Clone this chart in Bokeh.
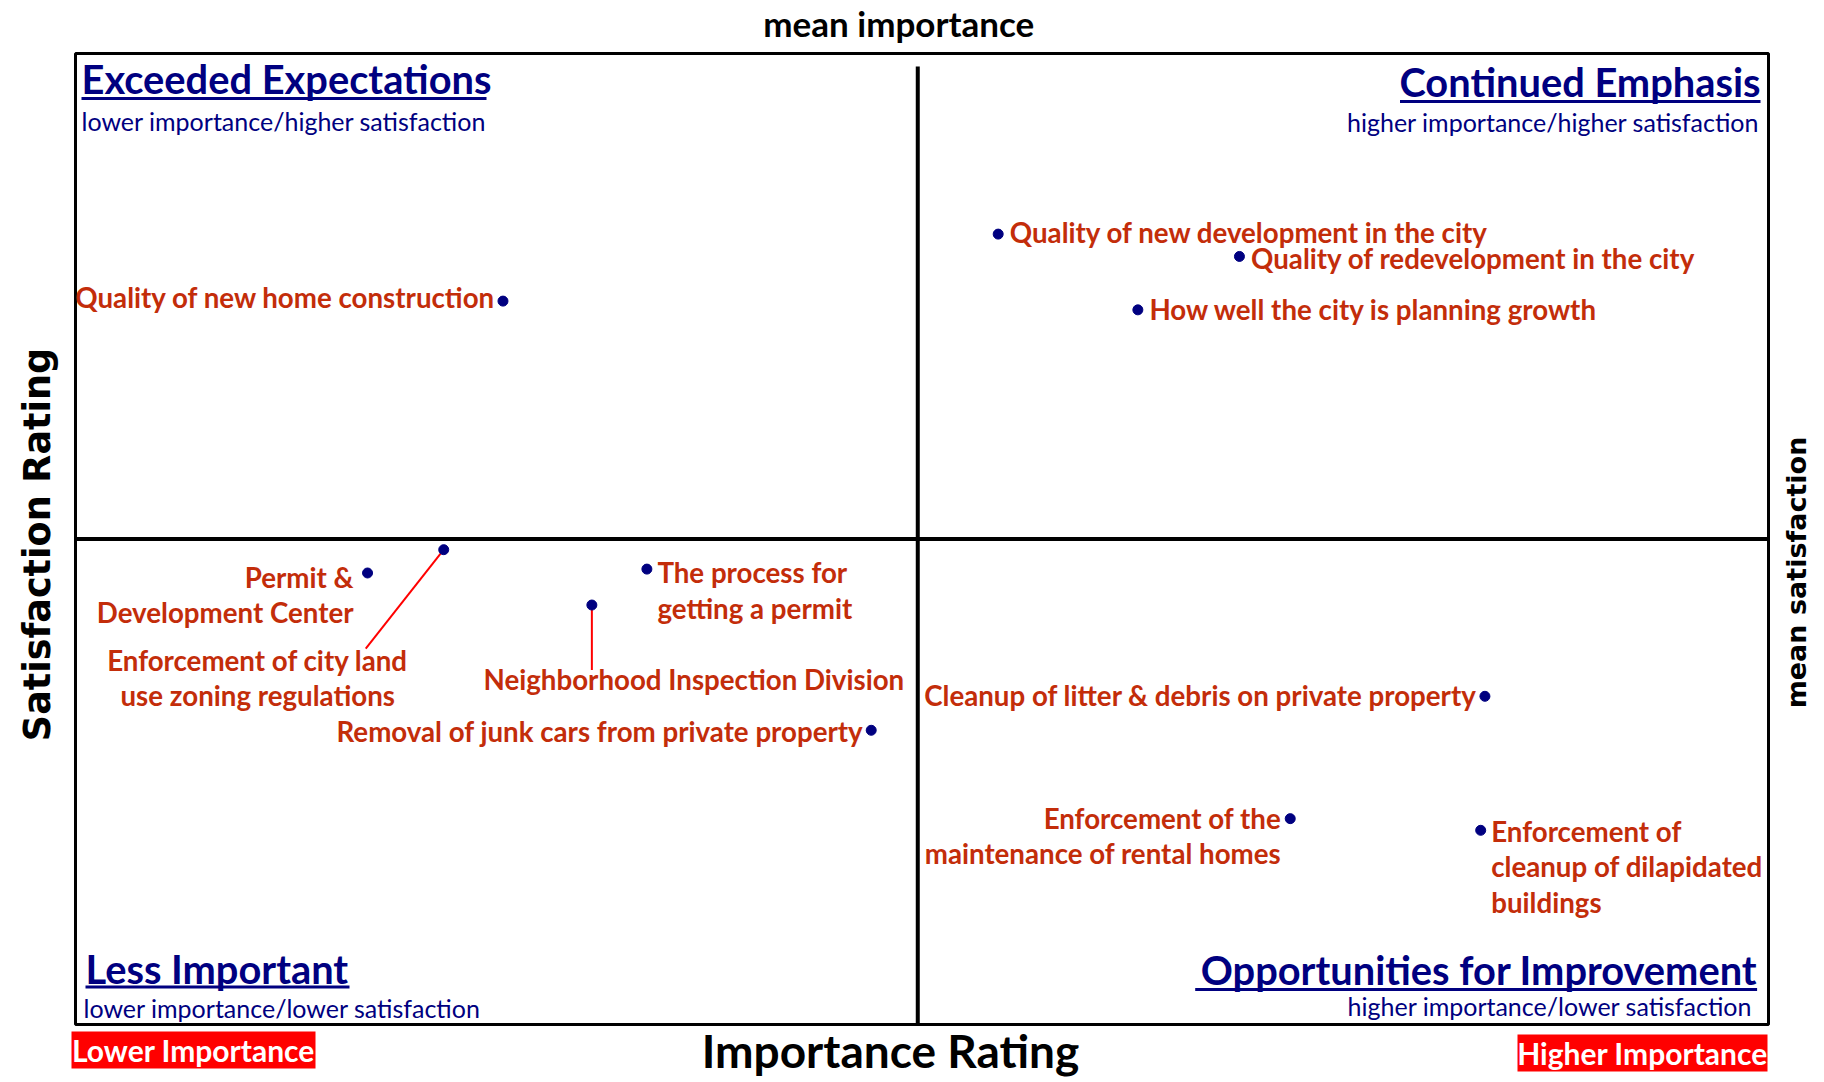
import math
from bokeh.plotting import figure
from bokeh.models import ColumnDataSource, Range1d
from bokeh.core.properties import value
from bokeh.embed import file_html
from bokeh.resources import INLINE

# ---------------- data ----------------
items = [
    "Quality of new home construction",
    "Quality of new development in the city",
    "Quality of redevelopment in the city",
    "How well the city is planning growth",
    "Permit &\nDevelopment Center",
    "Enforcement of city land\nuse zoning regulations",
    "The process for\ngetting a permit",
    "Neighborhood Inspection Division",
    "Removal of junk cars from private property",
    "Cleanup of litter & debris on private property",
    "Enforcement of the\nmaintenance of rental homes",
    "Enforcement of\ncleanup of dilapidated\nbuildings",
]
importance = [10.1, 21.8, 27.5, 25.1, 6.9, 8.7, 13.5, 12.2, 18.8, 33.3, 28.7, 33.2]
satisfaction = [3.345, 3.414, 3.391, 3.336, 3.065, 3.089, 3.069, 3.032, 2.903, 2.938, 2.812, 2.800]
mean_importance = 19.9
mean_satisfaction = 3.1

quadrant_titles = ["Exceeded Expectations", "Continued Emphasis",
                   "Less Important", "Opportunities for Improvement"]
quadrant_subtitles = ["lower importance/higher satisfaction",
                      "higher importance/higher satisfaction",
                      "lower importance/lower satisfaction",
                      "higher importance/lower satisfaction"]
x_title = "Importance Rating"
y_title = "Satisfaction Rating"
top_title = "mean importance"
right_title = "mean satisfaction"
end_labels = ["Lower Importance", "Higher Importance"]

# ---------------- layout / style ----------------
W, H = 1816, 1078
DL, DT, DR, DB = 75, 53, 1768, 1024      # chart box inside the canvas (px)
DW, DH = DR - DL, DB - DT
X0, X1 = 0.0, 40.0
Y0, Y1 = 2.6, 3.6

def dxp(px):
    return px * (X1 - X0) / DW

def dyp(px):
    return px * (Y1 - Y0) / DH

FONT = "Lato"
WIDE = "DejaVu Sans"
NAVY = "#000080"
LRED = "#C32D0A"

# label offsets (screen px, y down) and alignment per item
lab_dx = [-7, 11.6, 11.6, 11.6, -14, -186, 10.5, 102, -8, -8, -9, 10.5]
lab_dy = [-3.5, -2, 2, 0, 22, 128, 21.5, 74.5, 1, -1, 17.5, 36.6]
lab_align = ["right", "left", "left", "left", "right", "center", "left",
             "center", "right", "right", "right", "left"]

p = figure(width=W, height=H,
           x_range=Range1d(X0 - dxp(DL), X1 + dxp(W - DR)),
           y_range=Range1d(Y0 - dyp(H - DB), Y1 + dyp(DT)),
           output_backend="svg", toolbar_location=None, title=None,
           x_axis_location=None, y_axis_location=None,
           min_border=0)
p.grid.visible = False
p.outline_line_color = None
p.background_fill_color = "white"
p.border_fill_color = "white"

# chart box
p.quad(left=[X0], right=[X1], bottom=[Y0], top=[Y1], fill_color=None,
       line_color="black", line_width=3)

# dividers
p.segment(x0=[X0], x1=[X1], y0=[mean_satisfaction], y1=[mean_satisfaction],
          line_color="black", line_width=4)
p.segment(x0=[mean_importance], x1=[mean_importance], y0=[Y0], y1=[Y1 - dyp(13)],
          line_color="black", line_width=4)

# leader lines
lead_idx = [5, 7]
lead_off = [(-78, 99), (0, 65)]
p.segment(x0=[importance[i] for i in lead_idx],
          y0=[satisfaction[i] for i in lead_idx],
          x1=[importance[i] + dxp(o[0]) for i, o in zip(lead_idx, lead_off)],
          y1=[satisfaction[i] - dyp(o[1]) for i, o in zip(lead_idx, lead_off)],
          line_color="#FF0000", line_width=2)

src = ColumnDataSource(dict(x=importance, y=satisfaction, t=items,
                            dx=lab_dx, dy=lab_dy, al=lab_align))
p.scatter("x", "y", source=src, size=10, color=NAVY)
p.text("x", "y", text="t", source=src, x_offset="dx", y_offset="dy",
       text_align="al", text_baseline="middle",
       text_font=value(FONT), text_font_style="bold", text_font_size="27.7px",
       text_color=LRED, text_line_height=1.07)

# quadrant titles
qx = [X0, X1, X0, X1]
qy = [Y1, Y1, Y0, Y0]
qt_dx = [6, -8, 10, -11]
qt_dy = [25, 28, -56, -55]
qs_dx = [6, -9, 8, -16]
qs_dy = [67, 68, -17, -19]
q_al = ["left", "right", "left", "right"]
p.text(x=qx, y=qy, text=quadrant_titles, x_offset=qt_dx, y_offset=qt_dy,
       text_align=q_al, text_baseline="middle", text_font=value(FONT),
       text_font_style="bold", text_font_size="39.8px", text_color=NAVY)
p.text(x=qx, y=qy, text=quadrant_subtitles, x_offset=qs_dx, y_offset=qs_dy,
       text_align=q_al, text_baseline="middle", text_font=value(FONT),
       text_font_size="25px", text_color=NAVY)

# underlines
ul_start = [6, -368.5, 10, -573.3]
ul_end = [411, -8, 274, -11.4]
ul_dy = [45, 48, -37.5, -35]
ux0, ux1, uy = [], [], []
for bx, by, s, e, d in zip(qx, qy, ul_start, ul_end, ul_dy):
    ux0.append(bx + dxp(s))
    ux1.append(bx + dxp(e))
    uy.append(by - dyp(d))
p.segment(x0=ux0, x1=ux1, y0=uy, y1=uy, line_color=NAVY, line_width=3)

# outer titles
p.text(x=[mean_importance], y=[Y1], text=[top_title], x_offset=-19, y_offset=-31,
       text_align="center", text_baseline="middle", text_font=value(FONT),
       text_font_style="bold", text_font_size="35px", text_color="black")
p.text(x=[(X0 + X1) / 2], y=[Y0], text=[x_title], x_offset=-31.5, y_offset=26,
       text_align="center", text_baseline="middle", text_font=value(FONT),
       text_font_style="bold", text_font_size="46px", text_color="black")
p.text(x=[X0], y=[mean_satisfaction], text=[y_title], x_offset=-38, y_offset=5.5,
       angle=math.pi / 2, text_align="center", text_baseline="middle",
       text_font=value(WIDE), text_font_style="bold", text_font_size="36.5px",
       text_color="black")
p.text(x=[X1], y=[mean_satisfaction], text=[right_title], x_offset=28, y_offset=33.5,
       angle=math.pi / 2, text_align="center", text_baseline="middle",
       text_font=value(WIDE), text_font_style="bold", text_font_size="27px",
       text_color="black")

# red end boxes
bx = [X0 + dxp(118), X1 - dxp(126)]
by = [Y0 - dyp(25.5), Y0 - dyp(28.5)]
p.rect(x=bx, y=by, width=[244, 250], height=[37, 37], width_units="screen",
       height_units="screen", fill_color="#FF0000", line_color=None)
p.text(x=bx, y=by, text=end_labels, text_align="center", text_baseline="middle",
       text_font=value(FONT), text_font_style="bold", text_font_size="30px",
       text_color="white")

open("out.html", "w").write(file_html(p, INLINE))
